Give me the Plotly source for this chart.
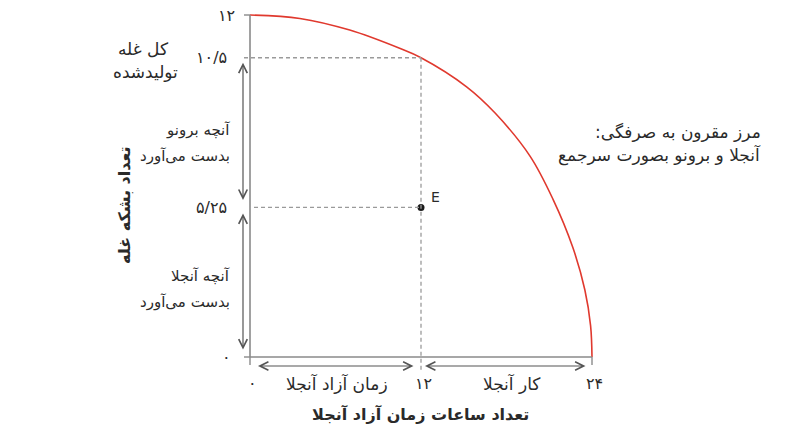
import plotly.graph_objects as go

# Production possibility frontier (hours of Angela's free time vs. bushels of grain)
curve_x = [0, 3.5, 7, 10.5, 12, 15.2, 17.2, 19.65, 21.25, 22.65, 23.5, 23.9, 24]
curve_y = [12, 11.88, 11.47, 10.83, 10.5, 9.48, 8.56, 7.05, 5.55, 3.85, 2.35, 1.1, 0]

# Point E and the guide levels
e_x, e_y = 12, 5.25
total_y = 10.5
y_ticks = [0, 5.25, 10.5, 12]
y_tick_labels = ["۰", "۵/۲۵", "۱۰/۵", "۱۲"]
x_ticks = [0, 12, 24]
x_tick_labels = ["۰", "۱۲", "۲۴"]

FONT = "DejaVu Sans"
TXT = "#2a2a2a"
AX = "#8a8a8a"
RED = "#e0392e"
ARW = "#555555"
RLM = "\u200f"

# pixel scale of the drawing area
X_MAX, Y_MAX = 24, 12
PX_PER_X = 14.25
PX_PER_Y = 28.5
X0_PX, Y0_PX = 250, 357
W, H = 809, 438
xr = [-X0_PX / PX_PER_X, (W - X0_PX) / PX_PER_X]
yr = [(Y0_PX - H) / PX_PER_Y, Y0_PX / PX_PER_Y]

def dx(px):
    return px / PX_PER_X

def dy(px):
    return px / PX_PER_Y

fig = go.Figure()

fig.add_trace(go.Scatter(
    x=curve_x, y=curve_y, mode="lines",
    line=dict(color=RED, width=1.6, shape="spline", smoothing=1.0),
    hoverinfo="skip", showlegend=False))

fig.add_trace(go.Scatter(
    x=[e_x], y=[e_y], mode="markers",
    marker=dict(color="#1a1a1a", size=7, line=dict(width=0)),
    hoverinfo="skip", showlegend=False))

shapes = []
# axes
shapes.append(dict(type="line", x0=0, y0=0, x1=0, y1=Y_MAX, line=dict(color=AX, width=1.6)))
shapes.append(dict(type="line", x0=0, y0=0, x1=X_MAX, y1=0, line=dict(color=AX, width=1.6)))
# y ticks
shapes.append(dict(type="line", x0=-dx(6), y0=Y_MAX, x1=0, y1=Y_MAX, line=dict(color=AX, width=1.4)))
shapes.append(dict(type="line", x0=-dx(6), y0=0, x1=0, y1=0, line=dict(color=AX, width=1.4)))
# x ticks
for v in [0, X_MAX]:
    shapes.append(dict(type="line", x0=v, y0=0, x1=v, y1=-dy(8), line=dict(color=AX, width=1.4)))
# dashed guides
dash = dict(color="#9a9a9a", width=1.3, dash="4px,3px")
shapes.append(dict(type="line", x0=-dx(6), y0=total_y, x1=e_x, y1=total_y, line=dash))
shapes.append(dict(type="line", x0=dx(4), y0=e_y, x1=e_x, y1=e_y, line=dash))
shapes.append(dict(type="line", x0=e_x, y0=total_y, x1=e_x, y1=-dy(14), line=dash))

ann = []

def arrow(x_head, y_head, x_tail, y_tail):
    ann.append(dict(x=x_head, y=y_head, ax=x_tail, ay=y_tail, xref="x", yref="y",
                    axref="x", ayref="y", text="", showarrow=True,
                    arrowside="end+start", arrowhead=5, startarrowhead=5,
                    arrowsize=1.4, startarrowsize=1.4, arrowwidth=1.2,
                    arrowcolor=ARW, standoff=0, startstandoff=0))

# vertical brackets along the grain axis
ax_x = -dx(7)
arrow(ax_x, total_y - dy(5), ax_x, e_y + dy(6))
arrow(ax_x, e_y - dy(6), ax_x, dy(6))
# horizontal brackets along the hours axis
ay_y = -dy(9)
arrow(dx(8), ay_y, e_x - dx(6), ay_y)
arrow(e_x + dx(4), ay_y, X_MAX - dx(5), ay_y)

def text(x, y, s, size=16, xanchor="center", yanchor="middle", bold=False, angle=0):
    ann.append(dict(x=x, y=y, xref="x", yref="y", text=(f"<b>{s}</b>" if bold else s),
                    showarrow=False, xanchor=xanchor, yanchor=yanchor, textangle=angle,
                    font=dict(family=FONT, size=size, color=TXT)))

# y tick labels
for v, lab in zip(y_ticks, y_tick_labels):
    if v == 0:
        text(-dx(24), v, lab)
    elif v == Y_MAX:
        text(-dx(13), v, lab, xanchor="right")
    else:
        text(-dx(21), v, lab, xanchor="right")

# x tick labels
xl_y = -dy(26)
for v, lab in zip(x_ticks, x_tick_labels):
    text(v + dx(2), xl_y, lab)
text(dx(87), xl_y, "زمان آزاد آنجلا", size=17)
text(dx(262), xl_y, "کار آنجلا", size=17)

# side labels
text(-dx(107), dy(357 - 49), "کل غله", size=17)
text(-dx(105), dy(357 - 72), "تولیدشده", size=17)
text(-dx(18), dy(357 - 130), "آنچه برونو", size=15, xanchor="right")
text(-dx(18), dy(357 - 156), "بدست می‌آورد", size=15, xanchor="right")
text(-dx(18), dy(357 - 276), "آنچه آنجلا", size=15, xanchor="right")
text(-dx(18), dy(357 - 302), "بدست می‌آورد", size=15, xanchor="right")

# frontier label
text(dx(763 - X0_PX), dy(357 - 132), RLM + "مرز مقرون به صرفگی:" + RLM, size=17, xanchor="right")
text(dx(763 - X0_PX), dy(357 - 155), "آنجلا و برونو بصورت سرجمع", size=17, xanchor="right")

# point label
text(e_x + dx(8), e_y + dy(10), "E", size=14, xanchor="left")

# axis titles
text(dx(420 - X0_PX), -dy(414 - Y0_PX), "تعداد ساعات زمان آزاد آنجلا", size=16, bold=True)
text(-dx(X0_PX - 124), dy(357 - 205), "تعداد بشکه غله", size=16, bold=True, angle=-90)

fig.update_layout(
    width=W, height=H, autosize=False,
    margin=dict(l=0, r=0, t=0, b=0),
    paper_bgcolor="white", plot_bgcolor="white",
    xaxis=dict(range=xr, visible=False, fixedrange=True),
    yaxis=dict(range=yr, visible=False, fixedrange=True),
    shapes=shapes, annotations=ann, showlegend=False,
)

fig.write_html("out.html", config={"displayModeBar": False})
